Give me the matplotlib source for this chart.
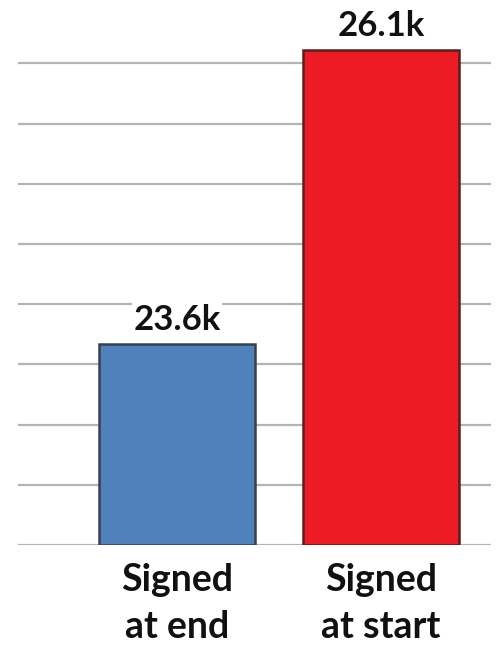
import matplotlib
matplotlib.use("Agg")
import matplotlib.pyplot as plt
import numpy as np

# dados
CATEGORIAS = ["Signed\nat end", "Signed\nat start"]
VALORES = [23670, 26110]
ROTULOS = ["23.6k", "26.1k"]
CORES = ["#4F81BD", "#ED1C24"]
BORDAS = ["#37404C", "#5A1E1E"]
GRADE = np.arange(22000, 26001, 500)

plt.rcParams["font.family"] = ["Lato", "DejaVu Sans"]

fig = plt.figure(figsize=(5.0, 6.5), dpi=100)
ax = fig.add_axes([0.036, 0.1615, 0.946, 0.8335])

x = np.arange(len(CATEGORIAS))
bars = ax.bar(x, np.array(VALORES) - GRADE[0], bottom=GRADE[0], width=0.765,
              color=CORES, edgecolor=BORDAS, linewidth=1.8, zorder=3)

for b, rot in zip(bars, ROTULOS):
    ax.annotate(rot, xy=(b.get_x() + b.get_width() / 2, b.get_y() + b.get_height()),
                xytext=(0, 6), textcoords="offset points",
                ha="center", va="bottom", fontsize=25, fontweight="bold",
                color="#111111", zorder=5,
                bbox=dict(facecolor="white", edgecolor="none", pad=1.0))

# linhas de grade horizontais
ax.set_yticks(GRADE)
ax.yaxis.grid(True, color="#B4B4B4", linewidth=1.6, zorder=0)
ax.set_axisbelow(True)
ax.set_yticklabels([])

ax.set_xlim(-0.779, 1.539)
ax.set_ylim(22000, 26500)
ax.set_xticks(x)
ax.set_xticklabels(CATEGORIAS, fontsize=27, fontweight="bold",
                   color="#111111", linespacing=1.45)
ax.tick_params(axis="both", length=0)
ax.tick_params(axis="x", pad=13)
for s in ax.spines.values():
    s.set_visible(False)

fig.savefig("out.png", dpi=100)
